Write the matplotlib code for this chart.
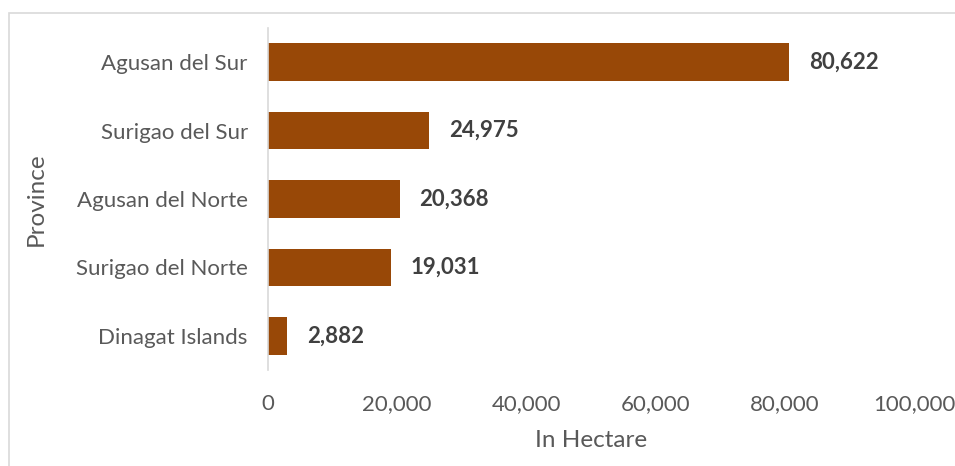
import matplotlib.pyplot as plt
from matplotlib.patches import Rectangle
from matplotlib.ticker import FuncFormatter

provinces = ["Agusan del Sur", "Surigao del Sur", "Agusan del Norte",
             "Surigao del Norte", "Dinagat Islands"]
hectares = [80622, 24975, 20368, 19031, 2882]
x_ticks = [0, 20000, 40000, 60000, 80000, 100000]

plt.rcParams["font.family"] = ["Lato", "DejaVu Sans"]

fig = plt.figure(figsize=(9.55, 4.66), dpi=100)
ax = fig.add_axes([268 / 955, 1 - 370 / 466, (914 - 268) / 955, (370 - 28) / 466])

y_pos = list(range(len(provinces)))
ax.barh(y_pos, hectares, height=0.55, color="#984807", zorder=2)
for y, v in zip(y_pos, hectares):
    ax.text(v + 3100, y, f"{v:,}", va="center", ha="left",
            fontsize=16, fontweight="bold", color="#404040")

ax.set_yticks(y_pos)
ax.set_yticklabels(provinces)
ax.set_ylim(4.5, -0.5)
ax.set_xlim(0, 100000)
ax.set_xticks(x_ticks)
ax.xaxis.set_major_formatter(FuncFormatter(lambda v, _: f"{int(v):,}"))
ax.tick_params(axis="both", length=0, labelsize=16, colors="#595959")
ax.tick_params(axis="x", pad=17)
ax.tick_params(axis="y", pad=14.5)

for side in ("top", "right", "bottom"):
    ax.spines[side].set_visible(False)
ax.spines["left"].set_color("#d9d9d9")
ax.spines["left"].set_linewidth(1.2)

ax.set_xlabel("In Hectare", fontsize=17.5, color="#595959", labelpad=12)
ax.set_ylabel("Province", fontsize=17.5, color="#595959", labelpad=21)

# chart frame, cropped at the right and bottom edges
fig.patches.append(Rectangle((9 / 955, -10 / 466), 960 / 955, 463 / 466,
                             transform=fig.transFigure, fill=False,
                             edgecolor="#d9d9d9", linewidth=1.2))

fig.savefig("out.png", dpi=100)
